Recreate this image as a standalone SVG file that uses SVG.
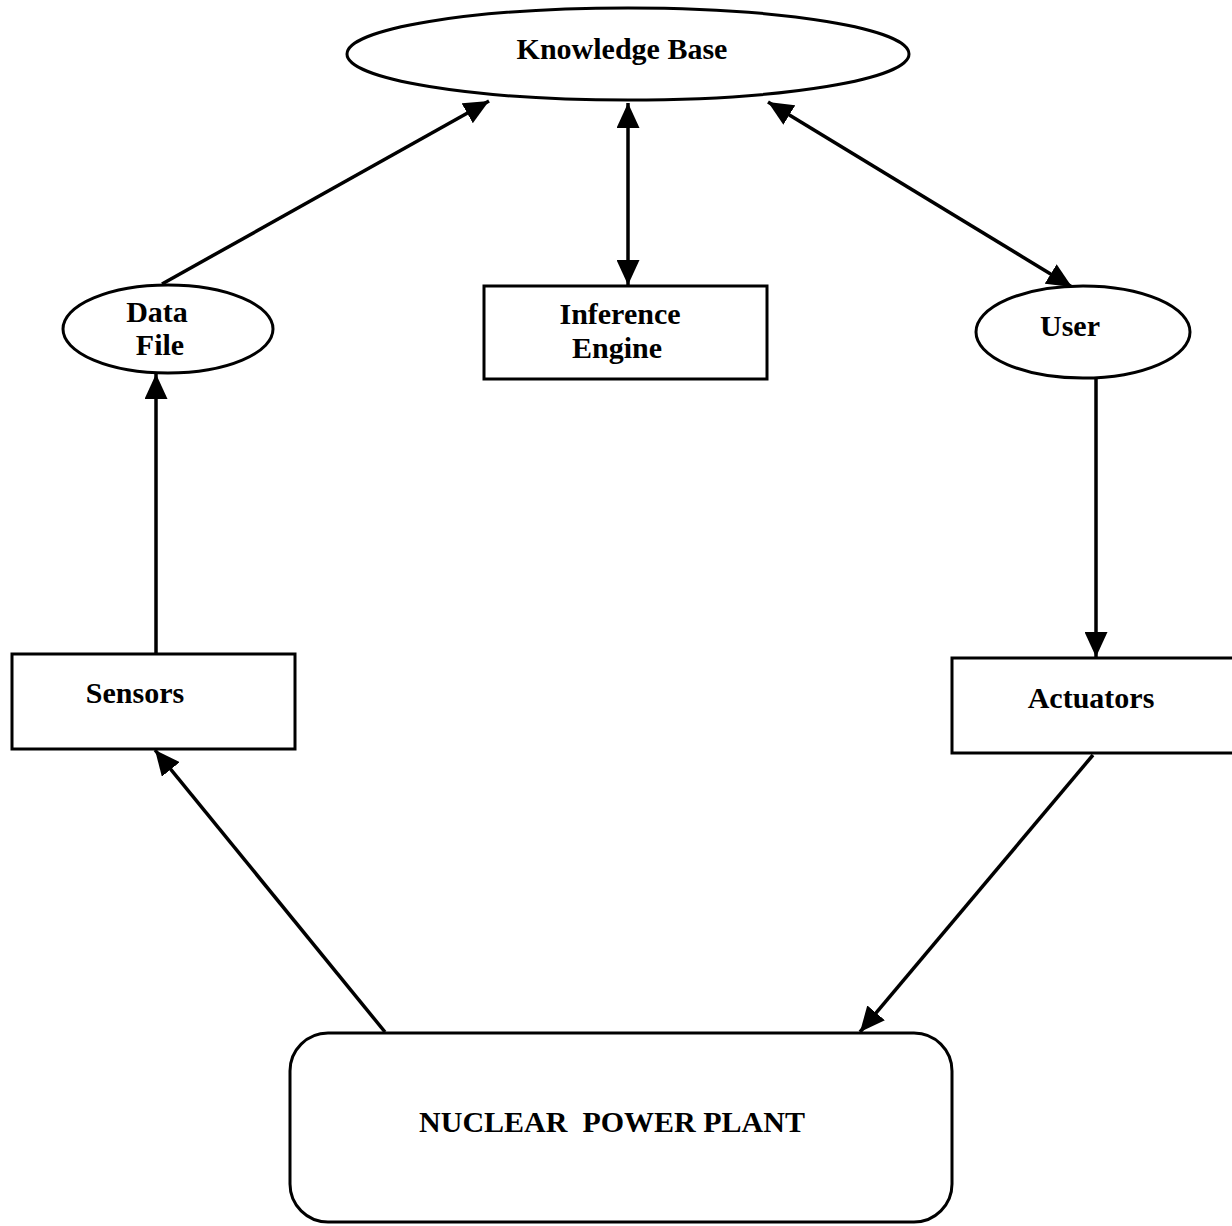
<svg xmlns="http://www.w3.org/2000/svg" width="1232" height="1226" viewBox="0 0 1232 1226">
  <style>
    .shape { fill: #ffffff; stroke: #000000; stroke-width: 3; }
    .label { font-family: "Liberation Serif", "Times New Roman", serif; font-weight: bold; font-size: 30px; fill: #000000; text-anchor: middle; }
    .link { stroke: #000000; stroke-width: 3.5; fill: none; }
  </style>
  <defs>
    <marker id="head" viewBox="0 0 25 23" refX="25" refY="11.5" markerWidth="25" markerHeight="23" markerUnits="userSpaceOnUse" orient="auto-start-reverse">
      <path d="M0,0 L25,11.5 L0,23 z" fill="#000000"/>
    </marker>
  </defs>
  <rect width="1232" height="1226" fill="#ffffff"/>

  <g id="connectors">
    <line class="link" x1="162" y1="284" x2="489" y2="101" marker-end="url(#head)"/>
    <line class="link" x1="628" y1="103" x2="628" y2="285" marker-start="url(#head)" marker-end="url(#head)"/>
    <line class="link" x1="768" y1="102" x2="1072" y2="287" marker-start="url(#head)" marker-end="url(#head)"/>
    <line class="link" x1="1096" y1="379" x2="1096" y2="657" marker-end="url(#head)"/>
    <line class="link" x1="156" y1="654" x2="156" y2="374" marker-end="url(#head)"/>
    <line class="link" x1="385" y1="1032" x2="155" y2="750" marker-end="url(#head)"/>
    <line class="link" x1="1093" y1="755" x2="860" y2="1032" marker-end="url(#head)"/>
  </g>

  <g id="knowledge-base">
    <ellipse class="shape" cx="628" cy="54" rx="281" ry="46"/>
    <text class="label" x="622" y="59">Knowledge Base</text>
  </g>

  <g id="data-file">
    <ellipse class="shape" cx="168" cy="329" rx="105" ry="44"/>
    <text class="label" x="157" y="322">Data</text>
    <text class="label" x="160" y="355">File</text>
  </g>

  <g id="inference-engine">
    <rect class="shape" x="484" y="286" width="283" height="93"/>
    <text class="label" x="620" y="324">Inference</text>
    <text class="label" x="617" y="358">Engine</text>
  </g>

  <g id="user">
    <ellipse class="shape" cx="1083" cy="332" rx="107" ry="46"/>
    <text class="label" x="1070" y="336">User</text>
  </g>

  <g id="sensors">
    <rect class="shape" x="12" y="654" width="283" height="95"/>
    <text class="label" x="135" y="703">Sensors</text>
  </g>

  <g id="actuators">
    <rect class="shape" x="952" y="658" width="290" height="95"/>
    <text class="label" x="1091" y="708">Actuators</text>
  </g>

  <g id="nuclear-power-plant">
    <rect class="shape" x="290" y="1033" width="662" height="189" rx="38" ry="38"/>
    <text class="label" x="612" y="1132" style="white-space: pre">NUCLEAR  POWER PLANT</text>
  </g>
</svg>
